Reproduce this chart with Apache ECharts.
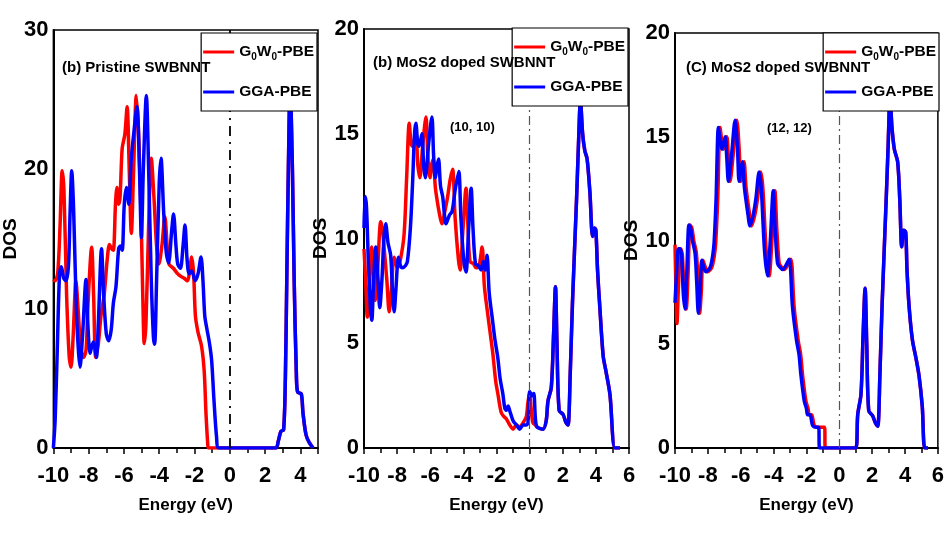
<!DOCTYPE html>
<html>
<head>
<meta charset="utf-8">
<script src="https://cdn.jsdelivr.net/npm/echarts@6/dist/echarts.min.js"></script>
<style>html,body{margin:0;padding:0;background:#fff;}#c{width:947px;height:546px;}</style>
</head>
<body>
<div id="c"></div>
<script>
// ---------- DATA ----------
const seriesNames = ['G0W0-PBE', 'GGA-PBE'];
const panelTitles = ['(b) Pristine SWBNNT', '(b) MoS2 doped SWBNNT', '(C) MoS2 doped SWBNNT'];
const panelNotes = ['', '(10, 10)', '(12, 12)'];
const xTitle = 'Energy (eV)';
const yTitle = 'DOS';

// Panel 1: pristine SWBNNT  [energy, DOS]
const p1Red = [[-10,12.1],[-9.9,12.0],[-9.75,12.6],[-9.62,16],[-9.5,19.9],[-9.4,18.5],[-9.25,11],[-9.1,6.5],[-9.0,5.8],[-8.88,8],[-8.72,12],[-8.6,10],[-8.45,7.2],[-8.3,6.5],[-8.15,7],[-8.05,10],[-7.83,14.4],[-7.72,11],[-7.6,6.5],[-7.45,7.5],[-7.3,9.5],[-7.12,11],[-6.95,13.5],[-6.82,14.6],[-6.7,14.3],[-6.6,14.2],[-6.48,17.5],[-6.4,18.7],[-6.3,17.5],[-6.22,18],[-6.1,21.5],[-5.95,22.5],[-5.82,24.5],[-5.7,20],[-5.58,15.4],[-5.45,20],[-5.3,25.3],[-5.15,22],[-5.0,15],[-4.9,9],[-4.85,7.5],[-4.75,9],[-4.6,16],[-4.45,20.8],[-4.3,18],[-4.15,14.5],[-4.02,13.2],[-3.85,14.5],[-3.68,16.6],[-3.55,14.5],[-3.45,13.2],[-3.2,12.9],[-2.95,12.5],[-2.75,12.3],[-2.6,12.2],[-2.4,12.0],[-2.3,12.5],[-2.16,13.7],[-2.05,12.5],[-1.95,9.5],[-1.8,8.3],[-1.6,7.3],[-1.45,5.5],[-1.35,2.5],[-1.25,0.3],[-1.2,0],[2.6,0]];
const p1Blue = [[-10,0],[-9.9,2],[-9.78,7],[-9.65,12.5],[-9.55,13.0],[-9.42,12.2],[-9.3,12.0],[-9.15,13],[-9.05,17],[-8.96,19.9],[-8.85,17],[-8.7,10],[-8.58,7],[-8.49,5.8],[-8.35,8],[-8.15,12.1],[-8.05,9],[-7.92,6.8],[-7.82,7.3],[-7.73,7.6],[-7.65,7.2],[-7.56,6.5],[-7.45,9],[-7.27,14.3],[-7.15,11],[-7.0,8.2],[-6.86,7.7],[-6.72,8.5],[-6.6,10.4],[-6.45,11.6],[-6.3,14.3],[-6.2,14.5],[-6.1,14.2],[-5.98,17.5],[-5.86,18.7],[-5.72,17.5],[-5.6,20.5],[-5.45,22.5],[-5.26,24.5],[-5.12,20],[-5.01,15.1],[-4.9,20],[-4.73,25.3],[-4.6,20],[-4.45,12],[-4.33,8],[-4.26,7.45],[-4.15,12],[-4.0,19],[-3.9,20.8],[-3.75,17],[-3.6,14],[-3.47,13.3],[-3.3,15.5],[-3.19,16.8],[-3.05,14.5],[-2.95,13.2],[-2.8,12.9],[-2.65,14.5],[-2.54,16.0],[-2.42,13.5],[-2.3,12.5],[-2.15,12.7],[-1.97,12.0],[-1.8,12.5],[-1.63,13.7],[-1.52,12],[-1.42,9.5],[-1.32,8.7],[-1.15,7.5],[-1.03,6.3],[-0.9,3.5],[-0.75,0.8],[-0.62,0],[2.6,0]];
const p1Cond = [[2.75,0.5],[2.9,1.2],[3.05,1.3],[3.15,5],[3.23,12.1],[3.32,20],[3.42,26],[3.55,20],[3.65,12],[3.78,5],[3.85,4.0],[4.05,3.9],[4.15,2.5],[4.32,0.95],[4.5,0.4],[4.72,0]];

// Panel 2: MoS2 doped (10,10)
const p2Red = [[-10,9.5],[-9.9,8],[-9.8,6.25],[-9.68,7.5],[-9.53,9.6],[-9.43,8.5],[-9.33,7.05],[-9.18,8.5],[-8.99,10.8],[-8.9,10.5],[-8.79,9.6],[-8.62,8],[-8.48,6.5],[-8.35,7.5],[-8.18,9.1],[-7.98,8.6],[-7.8,9],[-7.58,10.2],[-7.42,13],[-7.27,15.5],[-7.15,14.5],[-7.07,14.4],[-6.87,15.0],[-6.75,13.5],[-6.63,12.9],[-6.45,14.5],[-6.26,15.8],[-6.15,14],[-6.02,12.9],[-5.92,13.5],[-5.82,13.8],[-5.7,12.5],[-5.62,12.0],[-5.45,11.2],[-5.3,10.7],[-5.12,11.3],[-4.95,12.0],[-4.8,12.8],[-4.65,13.3],[-4.5,11],[-4.3,9],[-4.2,8.5],[-4.02,10.5],[-3.84,12.4],[-3.72,10.5],[-3.6,8.9],[-3.4,8.8],[-3.23,8.6],[-3.05,8.7],[-2.87,9.6],[-2.73,7.7],[-2.53,6.4],[-2.35,5.3],[-2.22,4.5],[-2.05,3.2],[-1.92,2.6],[-1.72,1.7],[-1.55,1.5],[-1.41,1.4],[-1.2,1.1],[-1.0,0.9],[-0.8,1.1],[-0.6,1.0],[-0.4,1.2],[-0.2,1.5],[-0.1,2.2],[0.0,2.6],[0.1,1.8],[0.2,1.2],[0.35,1.1],[0.45,1.0]];
const p2Blue = [[-10,10.5],[-9.93,12.0],[-9.85,11.5],[-9.74,9],[-9.6,6.5],[-9.53,6.1],[-9.42,8],[-9.29,9.6],[-9.15,8],[-9.05,6.7],[-8.92,8],[-8.8,10],[-8.69,10.7],[-8.55,9.8],[-8.39,9.2],[-8.28,7.5],[-8.18,6.5],[-8.08,7.5],[-7.92,9.1],[-7.8,8.7],[-7.68,8.6],[-7.5,8.7],[-7.38,8.9],[-7.2,10.5],[-7.07,12.6],[-6.95,15],[-6.87,15.5],[-6.75,14.5],[-6.67,14.4],[-6.5,15.0],[-6.4,13.5],[-6.3,12.9],[-6.1,14.5],[-5.9,15.8],[-5.8,14],[-5.7,12.9],[-5.58,13.5],[-5.5,13.8],[-5.38,12.5],[-5.25,12.0],[-5.15,11.2],[-5.05,10.7],[-4.85,11.1],[-4.68,11.3],[-4.5,12.3],[-4.28,13.2],[-4.15,11],[-3.98,9],[-3.84,8.4],[-3.68,10.5],[-3.53,12.4],[-3.42,10.5],[-3.27,8.8],[-3.1,8.7],[-2.93,8.5],[-2.8,8.9],[-2.68,8.5],[-2.57,9.2],[-2.44,7.4],[-2.24,6.1],[-2.1,5.2],[-1.92,4.3],[-1.78,3.3],[-1.62,2.6],[-1.5,1.9],[-1.41,1.8],[-1.3,2.0],[-1.21,1.8],[-1.0,1.3],[-0.8,1.1],[-0.6,0.9],[-0.4,1.1],[-0.2,1.1],[-0.1,1.2],[0.0,2.7],[0.15,2.5],[0.25,2.6],[0.35,1.4],[0.45,1.0]];
const p2Cond = [[0.81,0.9],[1.0,1.3],[1.11,2.25],[1.31,2.9],[1.45,5.5],[1.56,7.7],[1.65,5],[1.78,1.8],[2.02,1.6],[2.2,1.2],[2.32,1.1],[2.45,3.5],[2.59,7.0],[2.83,11.8],[2.95,14.5],[3.07,16.6],[3.2,15],[3.33,14.2],[3.47,13.8],[3.64,12.2],[3.8,10.1],[3.92,10.5],[4.0,10.4],[4.1,8.5],[4.24,6.7],[4.44,4.4],[4.6,3.7],[4.85,2.55],[5.15,0],[5.45,0]];

// Panel 3: MoS2 doped (12,12)
const p3Red = [[-10,9.8],[-9.95,8],[-9.88,6.0],[-9.78,8],[-9.65,9.6],[-9.55,9.3],[-9.45,7.5],[-9.32,6.7],[-9.2,8.5],[-9.08,10.75],[-8.97,10.6],[-8.86,10.0],[-8.7,9.4],[-8.6,8],[-8.5,6.5],[-8.4,7.5],[-8.3,9.05],[-8.15,8.7],[-8.03,8.5],[-7.85,8.6],[-7.72,8.8],[-7.6,9.3],[-7.52,9.9],[-7.4,12],[-7.26,15.45],[-7.15,14.8],[-7.05,14.4],[-6.85,15.0],[-6.75,14],[-6.65,12.85],[-6.45,14.2],[-6.24,15.8],[-6.1,14.5],[-6.0,12.85],[-5.88,13.5],[-5.8,13.8],[-5.68,12.6],[-5.59,12.0],[-5.45,11.2],[-5.35,10.7],[-5.15,11.2],[-4.98,12.0],[-4.78,13.3],[-4.65,12.5],[-4.45,9.5],[-4.27,8.3],[-4.1,10],[-3.92,12.4],[-3.8,10.5],[-3.66,8.9],[-3.5,8.7],[-3.35,8.6],[-3.15,8.8],[-2.95,9.1],[-2.75,6.8],[-2.5,5.17],[-2.35,4.5],[-2.24,3.55],[-2.03,2.25],[-1.9,1.9],[-1.83,1.6],[-1.68,1.6],[-1.53,1.1],[-1.3,1.0],[-0.9,1.0],[-0.85,0],[1.0,0]];
const p3Blue = [[-10,7.0],[-9.9,8.5],[-9.8,9.6],[-9.71,9.6],[-9.6,9.3],[-9.5,7.5],[-9.39,6.7],[-9.28,8.5],[-9.15,10.75],[-9.05,10.6],[-8.94,10.0],[-8.78,9.4],[-8.68,8],[-8.58,6.5],[-8.48,7.5],[-8.37,9.05],[-8.25,8.7],[-8.13,8.5],[-7.95,8.6],[-7.82,8.8],[-7.7,9.3],[-7.62,9.9],[-7.5,12],[-7.36,15.45],[-7.25,14.8],[-7.15,14.4],[-6.95,15.0],[-6.85,14],[-6.75,12.85],[-6.55,14.2],[-6.34,15.8],[-6.2,14.5],[-6.1,12.85],[-5.98,13.5],[-5.9,13.8],[-5.78,12.6],[-5.69,12.0],[-5.55,11.2],[-5.45,10.7],[-5.25,11.2],[-5.08,12.0],[-4.88,13.3],[-4.75,12.5],[-4.55,9.5],[-4.37,8.3],[-4.2,10],[-4.02,12.4],[-3.9,10.5],[-3.76,8.9],[-3.6,8.7],[-3.45,8.6],[-3.25,8.8],[-3.05,9.1],[-2.85,6.8],[-2.6,5.17],[-2.45,4.5],[-2.34,3.55],[-2.13,2.25],[-2.0,1.9],[-1.93,1.6],[-1.78,1.6],[-1.63,1.1],[-1.4,1.0],[-1.26,1.0],[-1.2,0],[1.0,0]];
const p3Cond = [[1.12,1.6],[1.32,2.6],[1.45,5.5],[1.57,7.7],[1.67,5],[1.79,1.8],[2.03,1.55],[2.2,1.2],[2.34,1.05],[2.47,3.5],[2.6,6.8],[2.85,11.9],[2.97,14.5],[3.09,17],[3.2,15.5],[3.35,14.4],[3.55,13.8],[3.68,12],[3.8,9.7],[3.92,10.5],[4.04,10.4],[4.12,8.6],[4.25,6.8],[4.45,5.2],[4.65,4.4],[4.85,3.5],[5.05,2.0],[5.2,0],[5.4,0]];

const xMax = [5, 6, 6];
const yMax = [30, 20, 20];
const yStep = [10, 5, 5];

// ---------- CHART ----------
const FONT = '"Liberation Sans", Arial, sans-serif';
const grids = [
  {left: 52, top: 30, width: 266, height: 418},
  {left: 364, top: 29, width: 265, height: 419},
  {left: 675, top: 33, width: 264, height: 415}
];
const legendRight = [630, 319, 8];
const legendTop = [33, 28, 33];
const titlePos = [[62, 60], [373, 55], [686, 60]];
const notePos = [[0, 0], [450, 121], [767, 122]];
const dashStyle = [
  {color: '#000', width: 1.8, type: [10, 6, 2, 6]},
  {color: '#555', width: 1.2, type: [9, 4, 2, 4]},
  {color: '#555', width: 1.2, type: [9, 4, 2, 4]}
];
const reds = [p1Red.concat(p1Cond), p2Red.concat(p2Cond), p3Red.concat(p3Cond)];
const blues = [p1Blue.concat(p1Cond), p2Blue.concat(p2Cond), p3Blue.concat(p3Cond)];

const xAxes = [], yAxes = [], series = [], legends = [], titles = [];
for (let i = 0; i < 3; i++) {
  grids[i].show = true;
  grids[i].borderColor = '#000';
  grids[i].borderWidth = 1.5;
  xAxes.push({
    type: 'value', gridIndex: i, min: -10, max: xMax[i], interval: 2,
    name: xTitle, nameLocation: 'middle', nameGap: 49,
    nameTextStyle: {fontFamily: FONT, fontWeight: 'bold', fontSize: 17, color: '#000'},
    axisLine: {onZero: false, lineStyle: {color: '#000', width: 2}},
    axisTick: {show: true, length: 6, lineStyle: {color: '#000', width: 1.5}},
    minorTick: {show: true, splitNumber: 2, length: 5, lineStyle: {color: '#000', width: 1.5}},
    splitLine: {show: false},
    axisLabel: {fontFamily: FONT, fontWeight: 'bold', fontSize: 22, color: '#000', margin: 17,
      showMinLabel: true, showMaxLabel: i > 0, hideOverlap: false}
  });
  yAxes.push({
    type: 'value', gridIndex: i, min: 0, max: yMax[i], interval: yStep[i],
    name: yTitle, nameLocation: 'middle', nameGap: 25,
    nameTextStyle: {fontFamily: FONT, fontWeight: 'bold', fontSize: 19, color: '#000'},
    axisLine: {show: true, onZero: false, lineStyle: {color: '#000', width: 2}},
    axisTick: {show: false},
    splitLine: {show: false},
    axisLabel: {fontFamily: FONT, fontWeight: 'bold', fontSize: 22, color: '#000', margin: 5}
  });
  series.push({
    name: seriesNames[0], type: 'line', xAxisIndex: i, yAxisIndex: i,
    data: reds[i], showSymbol: false, smooth: 0.3,
    lineStyle: {color: '#ff0000', width: 3.5}, itemStyle: {color: '#ff0000'},
    markLine: {
      silent: true, symbol: ['none', 'none'], label: {show: false},
      lineStyle: dashStyle[i], data: [{xAxis: 0}], animation: false
    }
  });
  series.push({
    name: seriesNames[1], type: 'line', xAxisIndex: i, yAxisIndex: i,
    data: blues[i], showSymbol: false, smooth: 0.3,
    lineStyle: {color: '#0000ff', width: 3.5}, itemStyle: {color: '#0000ff'}
  });
  legends.push({
    zlevel: 1, z: 10,
    right: legendRight[i], top: legendTop[i], orient: 'vertical',
    data: seriesNames.map(n => ({name: n, icon: 'rect'})),
    itemWidth: 31, itemHeight: 3, itemGap: 22,
    padding: [11, 3, 11, 2],
    backgroundColor: '#fff', borderColor: '#000', borderWidth: 1.2,
    selectedMode: false,
    formatter: function (n) {
      return n === 'G0W0-PBE' ? '{a|G}{s|0}{a|W}{s|0}{a|-PBE}' : '{a|GGA-PBE}';
    },
    textStyle: {
      rich: {
        a: {fontFamily: FONT, fontWeight: 'bold', fontSize: 15.5, color: '#000', lineHeight: 20},
        s: {fontFamily: FONT, fontWeight: 'bold', fontSize: 10, color: '#000', lineHeight: 10, verticalAlign: 'bottom', padding: [6, 0, 0, 0]}
      }
    }
  });
  titles.push({
    zlevel: 2,
    text: panelTitles[i], left: titlePos[i][0], top: titlePos[i][1], padding: 0,
    textStyle: {fontFamily: FONT, fontWeight: 'bold', fontSize: 15, color: '#000'}
  });
  if (panelNotes[i]) {
    titles.push({
      zlevel: 2,
      text: panelNotes[i], left: notePos[i][0], top: notePos[i][1], padding: 0,
      textStyle: {fontFamily: FONT, fontWeight: 'bold', fontSize: 13, color: '#000'}
    });
  }
}

const chart = echarts.init(document.getElementById('c'), null, {renderer: 'canvas'});
chart.setOption({
  animation: false,
  backgroundColor: '#fff',
  title: titles,
  legend: legends,
  grid: grids,
  xAxis: xAxes,
  yAxis: yAxes,
  series: series
});
</script>
</body>
</html>
